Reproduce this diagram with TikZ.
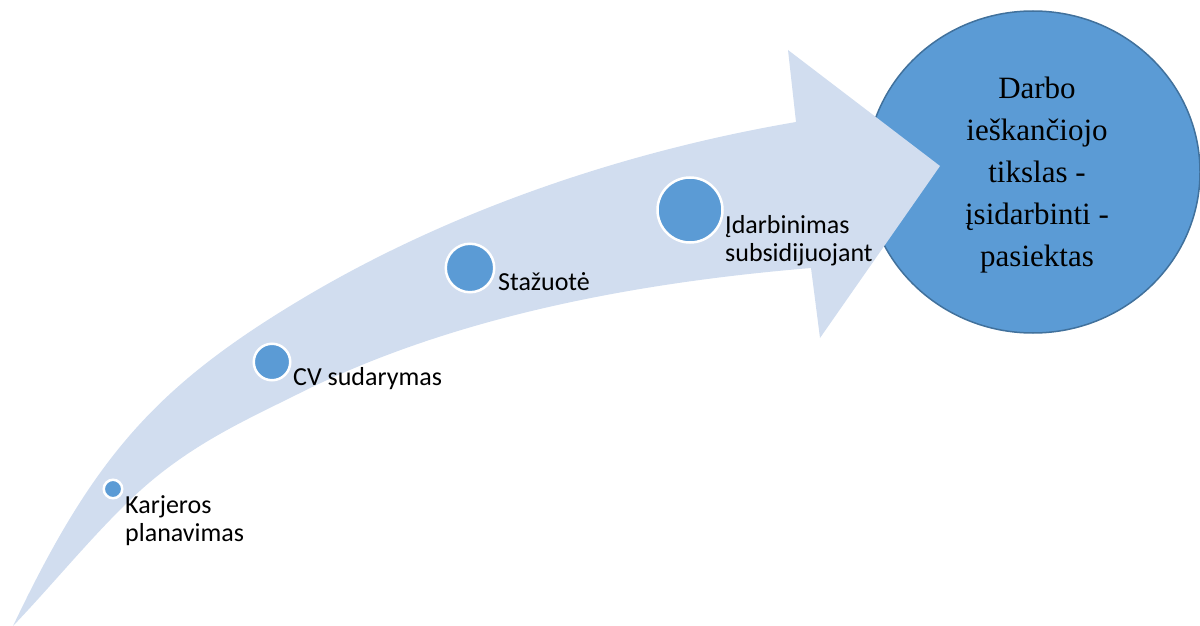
\documentclass[tikz,border=0pt]{standalone}
\usepackage{fontspec}
\usetikzlibrary{shapes.geometric}
\newfontfamily\labfont{Carlito}
\newfontfamily\goalfont{Liberation Serif}
\definecolor{band}{RGB}{209,221,239}
\definecolor{dot}{RGB}{91,155,213}
\definecolor{goalline}{RGB}{65,113,156}
\newcommand\ctrline[1]{\hbox to 0pt{\hss#1\hss}}
\begin{document}
\begin{tikzpicture}[x=1pt,y=-1pt,
  stepdot/.style={circle, fill=dot, draw=white, line width=2.5pt, inner sep=0pt, minimum size=#1},
  lab/.style={anchor=base west, inner sep=0pt, font=\labfont\fontsize{26}{28}\selectfont, text=black},
  goalshape/.style={ellipse, fill=dot, draw=goalline, line width=1.5pt, inner sep=0pt, minimum width=334pt, minimum height=322pt},
  goaltxt/.style={anchor=base, inner sep=0pt, font=\goalfont\fontsize{31}{42}\selectfont, text=black},
]
\useasboundingbox (0,0) rectangle (1200,626);
\clip (0,0) rectangle (1200,626);
% goal circle
\node[goalshape] (goal) at (1033,172) {};
% curved arrow band
\fill[band] (13,626) .. controls (93,458) and (155,387) .. (300,300)
  .. controls (450,210) and (626,151) .. (796,122)
  -- (788,50) -- (940,166) -- (820,338) -- (811,268)
  .. controls (631,283) and (450,318) .. (300,393)
  .. controls (250,418) and (200,440) .. (150,482)
  .. controls (105,520) and (58,579) .. (13,626) -- cycle;
% step dots
\node[stepdot=18.5pt] (d1) at (113,489) {};
\node[stepdot=36.5pt] (d2) at (272,362) {};
\node[stepdot=48.5pt] (d3) at (470,268) {};
\node[stepdot=65pt] (d4) at (690,210) {};
% labels
\node[lab] (l1) at (125,513) {\vtop{\hbox{Karjeros}\hbox{planavimas}}};
\node[lab] (l2) at (293,385) {CV sudarymas};
\node[lab] (l3) at (498,290) {Stažuotė};
\node[lab] (l4) at (725,233) {\vtop{\hbox{Įdarbinimas}\hbox{subsidijuojant}}};
% goal text
\node[goaltxt] (goaltext) at (1037,99) {\vtop{\ctrline{Darbo}\ctrline{ieškančiojo}\ctrline{tikslas -}\ctrline{įsidarbinti -}\ctrline{pasiektas}}};
\end{tikzpicture}
\end{document}
